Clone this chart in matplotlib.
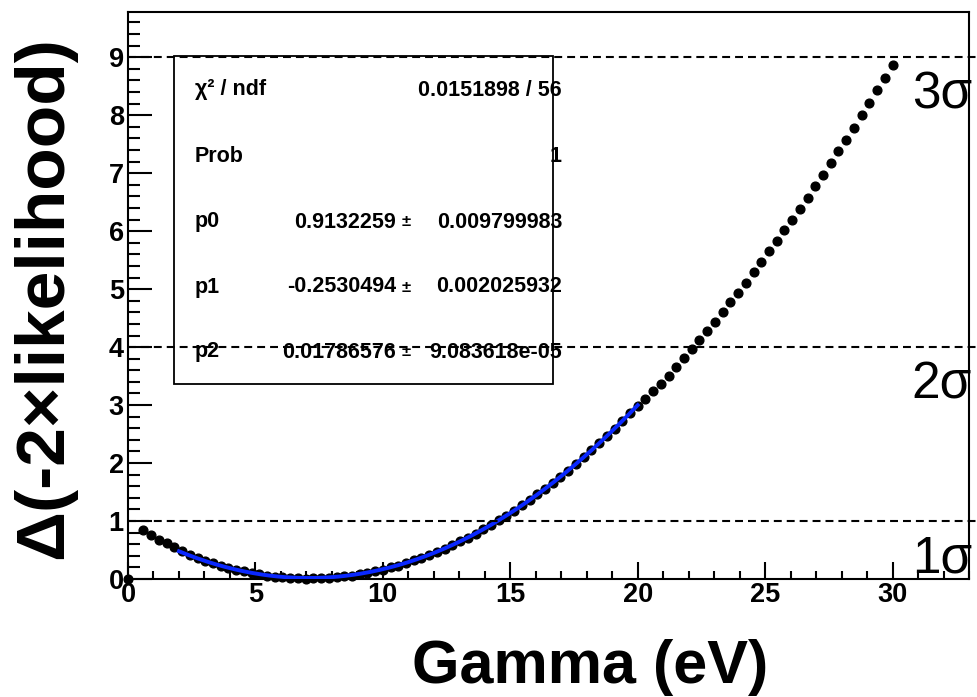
import numpy as np
import matplotlib.pyplot as plt
from matplotlib.patches import Rectangle
from matplotlib.ticker import MultipleLocator

plt.rcParams['font.family'] = ['Liberation Sans', 'DejaVu Sans']

# likelihood scan: Gamma grid of 100 steps over 0-30 eV (2nd point not drawn)
gamma_step = 30.0 / 99
scan_index = [0] + list(range(2, 100))
delta_nll = [0.00,
             0.84, 0.76, 0.68, 0.62, 0.55, 0.48, 0.42, 0.36, 0.31, 0.27,
             0.23, 0.19, 0.16, 0.13, 0.10, 0.08, 0.06, 0.04, 0.03, 0.02,
             0.01, 0.00, 0.01, 0.01, 0.02, 0.03, 0.05, 0.06, 0.08, 0.11,
             0.13, 0.16, 0.20, 0.23, 0.27, 0.32, 0.36, 0.41, 0.47, 0.52,
             0.58, 0.65, 0.71, 0.78, 0.86, 0.93, 1.01, 1.09, 1.18, 1.27,
             1.36, 1.46, 1.56, 1.66, 1.76, 1.87, 1.98, 2.10, 2.22, 2.34,
             2.46, 2.59, 2.72, 2.86, 2.98, 3.10, 3.24, 3.37, 3.51, 3.66,
             3.81, 3.96, 4.12, 4.28, 4.44, 4.60, 4.77, 4.94, 5.11, 5.29,
             5.47, 5.66, 5.83, 6.02, 6.20, 6.39, 6.58, 6.78, 6.97, 7.17,
             7.38, 7.58, 7.78, 8.00, 8.21, 8.43, 8.65, 8.86]

# pol2 fit result (from the stats box)
fit_p0, fit_p1, fit_p2 = 0.9132259, -0.2530494, 0.01786576
fit_lo, fit_hi = 2.0, 20.0

sigma_levels = [1, 4, 9]
sigma_names = ['1σ', '2σ', '3σ']

stats_rows = [
    ('χ² / ndf', '0.0151898 / 56', None),
    ('Prob', '1', None),
    ('p0', '0.9132259', '0.009799983'),
    ('p1', '-0.2530494', '0.002025932'),
    ('p2', '0.01786576', '9.083618e-05'),
]

W, H = 978, 697


def fx(x):
    return x / W


def fy(y):
    return 1 - y / H


fig = plt.figure(figsize=(W / 100, H / 100), dpi=100)
ax = fig.add_axes([fx(128), fy(579), (969 - 128) / W, (579 - 12) / H])

gamma = np.array(scan_index) * gamma_step
ax.plot(gamma, delta_nll, 'o', color='black', markersize=6.3, clip_on=False, zorder=4)

gx = np.linspace(fit_lo, fit_hi, 300)
ax.plot(gx, fit_p0 + fit_p1 * gx + fit_p2 * gx ** 2, color='#0a28ff', lw=2.8, zorder=5)

for lev in sigma_levels:
    ax.plot([0, 34], [lev, lev], color='black', lw=1.5, linestyle=(0, (3.8, 2.4)),
            clip_on=False, zorder=6)

for lev, name in zip(sigma_levels, sigma_names):
    ax.text(30.75, lev - 0.88, name, fontsize=37, ha='left', va='baseline', zorder=7)

ax.set_xlim(0, 33)
ax.set_ylim(0, 9.78)
ax.xaxis.set_major_locator(MultipleLocator(5))
ax.xaxis.set_minor_locator(MultipleLocator(1))
ax.yaxis.set_major_locator(MultipleLocator(1))
ax.yaxis.set_minor_locator(MultipleLocator(0.2))
ax.tick_params(which='both', direction='in', width=1.5, top=False, right=False, labelsize=19.5)
ax.tick_params(axis='x', which='major', length=12, pad=2)
ax.tick_params(axis='x', which='minor', length=6)
ax.tick_params(axis='y', which='major', length=17, pad=3)
ax.tick_params(axis='y', which='minor', length=8.5)
for lab in ax.get_xticklabels() + ax.get_yticklabels():
    lab.set_fontweight('bold')
for s in ax.spines.values():
    s.set_linewidth(1.5)

# stats box
ax.add_patch(Rectangle((fx(174), fy(384)), (553 - 174) / W, (384 - 56) / H,
                       transform=fig.transFigure, facecolor='white', edgecolor='black',
                       lw=1.3, zorder=3))
row_y = [90, 157, 222, 287, 352]
for (name, val, err), y in zip(stats_rows, row_y):
    kw = dict(fontsize=15.5, fontweight='bold', va='center', zorder=8)
    fig.text(fx(195), fy(y), name, ha='left', **kw)
    if err is None:
        fig.text(fx(562), fy(y), val, ha='right', **kw)
    else:
        fig.text(fx(396), fy(y), val, ha='right', **kw)
        fig.text(fx(406), fy(y), '±', ha='center', fontsize=12, fontweight='bold', va='center')
        fig.text(fx(562), fy(y), err, ha='right', **kw)

fig.text(fx(590), fy(683), 'Gamma (eV)', fontsize=44, fontweight='bold', ha='center', va='baseline')
fig.text(fx(44), fy(298), 'Δ(-2×likelihood)', fontsize=50, fontweight='bold', rotation=90,
         ha='center', va='center')

fig.savefig('out.png', dpi=100)
